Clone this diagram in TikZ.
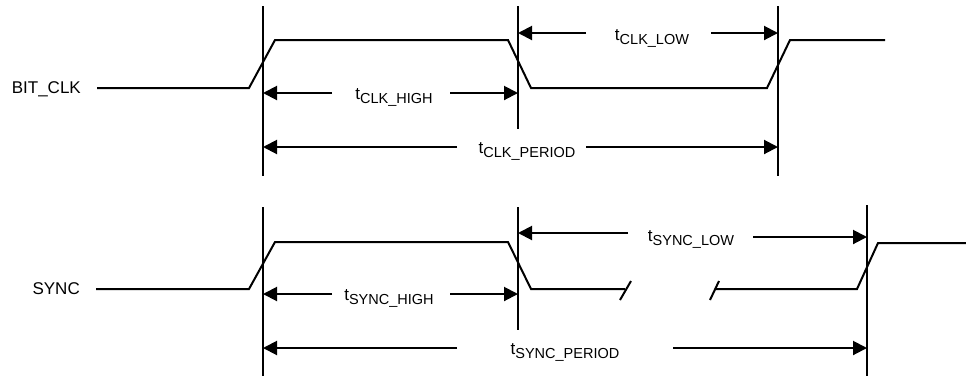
\documentclass[tikz,border=0pt]{standalone}
\usepackage{fontspec}
\setmainfont{Liberation Sans}
\usetikzlibrary{arrows.meta}
\newcommand{\tlbl}[1]{{\fontsize{17}{20}\selectfont t}\raisebox{-4pt}{\fontsize{14.5}{17}\selectfont #1}}
\begin{document}
\begin{tikzpicture}[x=1pt,y=-1pt,
  wave/.style={line width=2pt,line join=miter},
  mark line/.style={line width=2pt},
  dim/.style={line width=2pt,-{Triangle[length=14pt,width=14pt]}},
  sig/.style={font=\fontsize{17}{20}\selectfont,inner sep=0pt,anchor=base east},
  tl/.style={inner sep=0pt,anchor=base}]
\useasboundingbox (0,0) rectangle (966,376);
% ---------- BIT_CLK ----------
\node[sig] (clk) at (81,93) {BIT\_CLK};
\draw[wave] (97,88) -- (249,88) -- (275,40) -- (508,40) -- (531,88) -- (767,88) -- (790,40) -- (885,40);
\coordinate (v1t) at (263,6);   \coordinate (v1b) at (263,176);
\coordinate (v2t) at (518,6);   \coordinate (v2b) at (518,129);
\coordinate (v3t) at (778,6);   \coordinate (v3b) at (778,176);
\draw[mark line] (v1t) -- (v1b);
\draw[mark line] (v2t) -- (v2b);
\draw[mark line] (v3t) -- (v3b);
% tCLK_LOW
\node[tl] (clow) at (652,40) {\tlbl{CLK\_LOW}};
\coordinate (clowL) at (586,33); \coordinate (clowR) at (711,33);
\draw[dim] (clowL) -- (clowL -| v2t);
\draw[dim] (clowR) -- (clowR -| v3t);
% tCLK_HIGH
\node[tl] (chigh) at (394,99) {\tlbl{CLK\_HIGH}};
\coordinate (chighL) at (332,93); \coordinate (chighR) at (450,93);
\draw[dim] (chighL) -- (chighL -| v1t);
\draw[dim] (chighR) -- (chighR -| v2t);
% tCLK_PERIOD
\node[tl] (cper) at (527,153) {\tlbl{CLK\_PERIOD}};
\coordinate (cperL) at (457,147); \coordinate (cperR) at (586,147);
\draw[dim] (cperL) -- (cperL -| v1t);
\draw[dim] (cperR) -- (cperR -| v3t);
% ---------- SYNC ----------
\node[sig] (sync) at (80,294) {SYNC};
\draw[wave] (96,289) -- (249,289) -- (275,242) -- (508,242) -- (531,289) -- (625,289);
\draw[wave] (620,300) -- (631,281);
\draw[wave] (710,300) -- (719,281);
\draw[wave] (715,289) -- (857,289) -- (878,243) -- (966,243);
\coordinate (w1t) at (263,207); \coordinate (w1b) at (263,376);
\coordinate (w2t) at (518,207); \coordinate (w2b) at (518,330);
\coordinate (w3t) at (867,205); \coordinate (w3b) at (867,376);
\draw[mark line] (w1t) -- (w1b);
\draw[mark line] (w2t) -- (w2b);
\draw[mark line] (w3t) -- (w3b);
% tSYNC_LOW
\node[tl] (slow) at (691,241) {\tlbl{SYNC\_LOW}};
\coordinate (slowL) at (628,233); \coordinate (slowR) at (753,237);
\draw[dim] (slowL) -- (slowL -| w2t);
\draw[dim] (slowR) -- (slowR -| w3t);
% tSYNC_HIGH
\node[tl] (shigh) at (389,300) {\tlbl{SYNC\_HIGH}};
\coordinate (shighL) at (332,294); \coordinate (shighR) at (450,294);
\draw[dim] (shighL) -- (shighL -| w1t);
\draw[dim] (shighR) -- (shighR -| w2t);
% tSYNC_PERIOD
\node[tl] (sper) at (565,354) {\tlbl{SYNC\_PERIOD}};
\coordinate (sperL) at (457,348); \coordinate (sperR) at (673,348);
\draw[dim] (sperL) -- (sperL -| w1t);
\draw[dim] (sperR) -- (sperR -| w3t);
\end{tikzpicture}
\end{document}
